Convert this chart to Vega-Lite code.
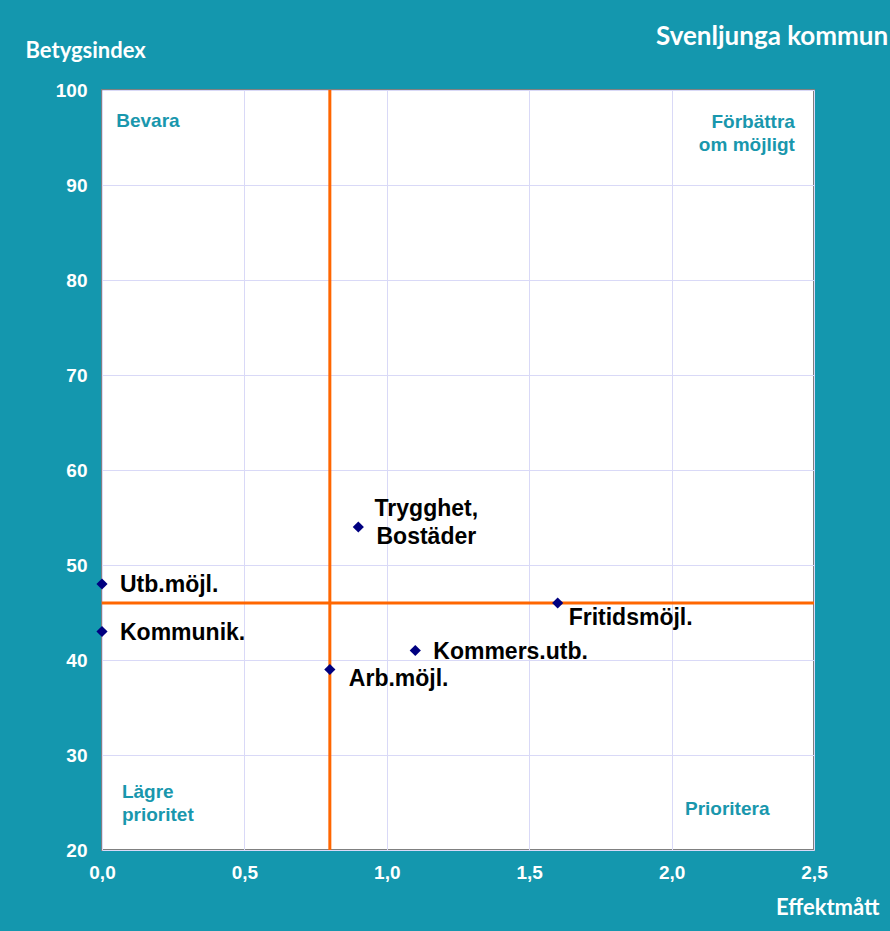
{
  "$schema": "https://vega.github.io/schema/vega-lite/v6.json",
  "width": 712,
  "height": 760,
  "autosize": {"type": "none"},
  "padding": {"left": 102, "top": 90, "right": 76, "bottom": 81},
  "background": "#1497AE",
  "title": {
    "text": "Svenljunga kommun",
    "anchor": "start",
    "frame": "group",
    "dx": 554,
    "offset": -32,
    "baseline": "alphabetic",
    "font": "Lato",
    "fontSize": 26,
    "fontWeight": "bold",
    "color": "white"
  },
  "config": {
    "view": {"stroke": "#808080", "strokeWidth": 2, "fill": "white"},
    "axis": {
      "domain": false,
      "ticks": false,
      "labelFlush": false,
      "labelOverlap": false,
      "gridColor": "#D9D9F7",
      "gridWidth": 1,
      "labelFont": "Liberation Sans",
      "labelFontSize": 19,
      "labelFontWeight": "bold",
      "labelColor": "white",
      "titleFont": "Lato",
      "titleFontSize": 22,
      "titleFontWeight": "bold",
      "titleColor": "white"
    }
  },
  "datasets": {
    "points": [
      {"name": "Utb.möjl.", "effekt": 0.0, "betyg": 48},
      {"name": "Kommunik.", "effekt": 0.0, "betyg": 43},
      {"name": "Arb.möjl.", "effekt": 0.8, "betyg": 39},
      {"name": "Trygghet,\nBostäder", "effekt": 0.9, "betyg": 54},
      {"name": "Kommers.utb.", "effekt": 1.1, "betyg": 41},
      {"name": "Fritidsmöjl.", "effekt": 1.6, "betyg": 46}
    ],
    "quadrants": [
      {"label": "Bevara", "effekt": 0.05, "betyg": 96.7, "side": "left"},
      {"label": "Förbättra\nom möjligt", "effekt": 2.433, "betyg": 96.6, "side": "right"},
      {"label": "Lägre\nprioritet", "effekt": 0.07, "betyg": 26.1, "side": "left"},
      {"label": "Prioritera", "effekt": 2.047, "betyg": 24.3, "side": "left"}
    ]
  },
  "encoding": {
    "x": {
      "field": "effekt",
      "type": "quantitative",
      "scale": {"domain": [0, 2.5], "nice": false, "zero": false},
      "axis": {
        "values": [0, 0.5, 1, 1.5, 2, 2.5],
        "labelExpr": "replace(format(datum.value, '.1f'), '.', ',')",
        "labelPadding": 13,
        "title": "Effektmått",
        "titleX": 777,
        "titleY": 57,
        "titleAlign": "right",
        "titleBaseline": "middle"
      }
    },
    "y": {
      "field": "betyg",
      "type": "quantitative",
      "scale": {"domain": [20, 100], "nice": false, "zero": false},
      "axis": {
        "values": [20, 30, 40, 50, 60, 70, 80, 90, 100],
        "labelPadding": 15,
        "title": "Betygsindex",
        "titleAngle": 0,
        "titleX": -77,
        "titleY": -40,
        "titleAlign": "left",
        "titleBaseline": "middle"
      }
    }
  },
  "layer": [
    {
      "data": {"values": [{"v": 0.8}]},
      "mark": {"type": "rule", "color": "#FF6600", "strokeWidth": 3},
      "encoding": {"x": {"field": "v", "type": "quantitative"}, "y": null}
    },
    {
      "data": {"values": [{"v": 46}]},
      "mark": {"type": "rule", "color": "#FF6600", "strokeWidth": 3},
      "encoding": {"y": {"field": "v", "type": "quantitative"}, "x": null}
    },
    {
      "data": {"name": "points"},
      "mark": {"type": "point", "shape": "diamond", "filled": true, "color": "#000080", "size": 125, "opacity": 1}
    },
    {
      "data": {"name": "points"},
      "transform": [{"filter": "datum.name == 'Utb.möjl.' || datum.name == 'Kommunik.' || datum.name == 'Kommers.utb.'"}],
      "mark": {"type": "text", "align": "left", "baseline": "middle", "dx": 18, "dy": 1, "font": "Liberation Sans", "fontSize": 23, "fontWeight": "bold", "color": "black"},
      "encoding": {"text": {"field": "name"}}
    },
    {
      "data": {"name": "points"},
      "transform": [{"filter": "datum.name == 'Arb.möjl.'"}],
      "mark": {"type": "text", "align": "left", "baseline": "middle", "dx": 19, "dy": 9, "font": "Liberation Sans", "fontSize": 23, "fontWeight": "bold", "color": "black"},
      "encoding": {"text": {"field": "name"}}
    },
    {
      "data": {"name": "points"},
      "transform": [{"filter": "datum.name == 'Fritidsmöjl.'"}],
      "mark": {"type": "text", "align": "left", "baseline": "middle", "dx": 11, "dy": 15, "font": "Liberation Sans", "fontSize": 23, "fontWeight": "bold", "color": "black"},
      "encoding": {"text": {"field": "name"}}
    },
    {
      "data": {"name": "points"},
      "transform": [{"filter": "indexof(datum.name, 'Trygghet') == 0"}],
      "mark": {"type": "text", "align": "center", "baseline": "middle", "lineBreak": "\n", "lineHeight": 28, "dx": 68, "dy": -18, "font": "Liberation Sans", "fontSize": 23, "fontWeight": "bold", "color": "black"},
      "encoding": {"text": {"field": "name"}}
    },
    {
      "data": {"name": "quadrants"},
      "transform": [{"filter": "datum.side == 'left'"}],
      "mark": {"type": "text", "align": "left", "baseline": "middle", "lineBreak": "\n", "lineHeight": 23, "font": "Liberation Sans", "fontSize": 19, "fontWeight": "bold", "color": "#1997AD"},
      "encoding": {"text": {"field": "label"}}
    },
    {
      "data": {"name": "quadrants"},
      "transform": [{"filter": "datum.side == 'right'"}],
      "mark": {"type": "text", "align": "right", "baseline": "middle", "lineBreak": "\n", "lineHeight": 23, "font": "Liberation Sans", "fontSize": 19, "fontWeight": "bold", "color": "#1997AD"},
      "encoding": {"text": {"field": "label"}}
    }
  ]
}
